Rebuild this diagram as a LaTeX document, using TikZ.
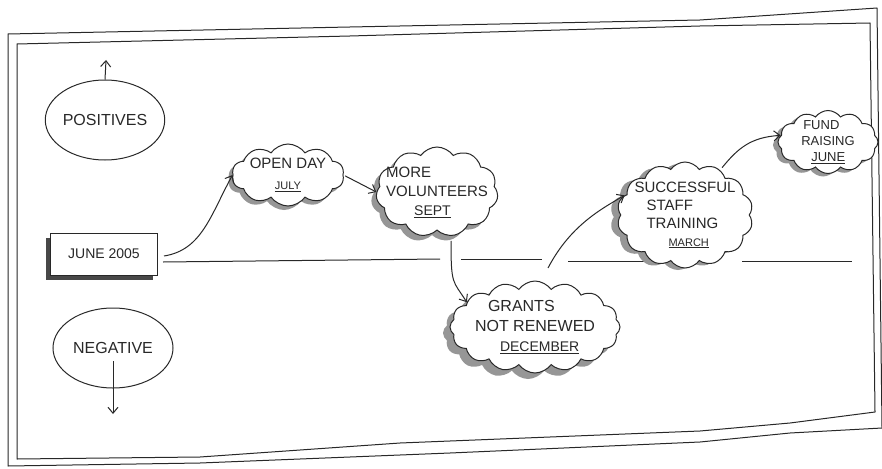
\documentclass[tikz,border=0pt]{standalone}
\usepackage{fontspec}
\setmainfont{Liberation Sans}
\usetikzlibrary{shapes.symbols, shapes.geometric, shadows, positioning, arrows.meta}
\definecolor{pencil}{RGB}{40,40,40}
\definecolor{smudge}{RGB}{150,150,150}
\newcommand{\when}[2][11]{{\fontsize{#1}{#1}\selectfont\underline{#2}}}

\begin{document}
\begin{tikzpicture}[
    x=1pt, y=-1pt, color=pencil, line width=1pt,
    frame/.style={line width=1pt, line join=round},
    mood/.style={ellipse, draw, inner sep=0pt, font=\fontsize{16}{18}\selectfont},
    thought/.style={cloud, cloud puffs=12, cloud puff arc=110, cloud ignores aspect, draw, fill=white, inner sep=-18pt, align=left},
    smudged/.style 2 args={drop shadow={shadow xshift=#1, shadow yshift=#2, fill=smudge, opacity=1}},
    datebox/.style={rectangle, draw, fill=white, minimum width=107pt, minimum height=42pt, font=\fontsize{14}{16}\selectfont, drop shadow={shadow xshift=-5pt, shadow yshift=-5pt, fill=pencil!85, opacity=1}},
    arrow/.style={-{Straight Barb[length=6pt, width=10pt]}, line width=1pt},
    divider/.style={line width=1pt}
]
\useasboundingbox (0,0) rectangle (882,468);

% Frame
\draw[frame] (8,34) -- (350,27) -- (700,20) -- (877,8) -- (882,428) -- (790,433) -- (700,442) -- (450,453) -- (200,463) -- (8,466) -- cycle;
\draw[frame] (17,44) -- (350,36) -- (700,26) -- (870,23) -- (875,412) -- (790,423) -- (700,431) -- (400,443) -- (200,457) -- (17,459) -- cycle;

% Positives / negatives
\node[mood, minimum width=104pt, minimum height=80pt] (positives) at (105,120) {POSITIVES};
\node[mood, minimum width=120pt, minimum height=80pt] (negative) at (113,348) {NEGATIVE};
\coordinate (up) at (106,60);
\coordinate (down) at (113,414);
\draw[arrow] (positives.north) -- (up);
\draw[arrow] ([yshift=-13pt]negative.center) -- (down);

% Start
\node[datebox] (june) at (104,254) {JUNE 2005};

% Timeline
\draw[divider] (163,262) -- (440,259);
\draw[divider] (461,259) -- (542,259);
\draw[divider] (568,261) -- (650,261);
\draw[divider] (742,261) -- (852,261);

% Events
\node[thought, smudged={-4pt}{-4pt}, cloud puffs=10, minimum width=112pt, minimum height=62pt, font=\fontsize{15}{21}\selectfont, align=center] (openday) at (288,175) {OPEN DAY\\\when{JULY}};
\node[thought, smudged={-5pt}{-5pt}, cloud puffs=11, minimum width=122pt, minimum height=90pt, font=\fontsize{15}{19}\selectfont] (volunteers) at (437,192) {MORE\\VOLUNTEERS\\\hspace*{28pt}\when[14]{SEPT}};
\node[thought, smudged={-7pt}{-6pt}, cloud puffs=16, minimum width=170pt, minimum height=92pt, font=\fontsize{16}{20}\selectfont] (grants) at (535,327) {\hspace*{13pt}GRANTS\\NOT RENEWED\\\hspace*{25pt}\when[14]{DECEMBER}};
\node[thought, smudged={-7pt}{-2pt}, cloud puffs=14, minimum width=136pt, minimum height=106pt, font=\fontsize{15}{18}\selectfont] (training) at (685,215) {SUCCESSFUL\\\hspace*{12pt}STAFF\\\hspace*{12pt}TRAINING\\\hspace*{34pt}\when{MARCH}};
\node[thought, smudged={-5pt}{-3pt}, cloud puffs=12, minimum width=100pt, minimum height=63pt, font=\fontsize{13}{16}\selectfont] (fundraising) at (828,142) {\hspace*{2pt}FUND\\RAISING\\\hspace*{10pt}\when[13]{JUNE}};

% Arrows
\coordinate (rise) at (548,268);
\draw[arrow] ([xshift=6pt, yshift=-2pt]june.east) .. controls +(38,-6) and +(-22,40) .. (openday.west);
\draw[arrow, shorten <=2pt] (openday.east) -- (volunteers.west);
\draw[arrow] ([xshift=14pt, yshift=-10pt]volunteers.south) .. controls +(0,45) and +(-14,-22) .. (grants.160);
\draw[arrow] (rise) .. controls +(22,-42) and +(-24,14) .. (training.162);
\draw[arrow, shorten <=3pt] (training.52) .. controls +(18,-22) and +(-30,2) .. (fundraising.172);

\end{tikzpicture}
\end{document}
